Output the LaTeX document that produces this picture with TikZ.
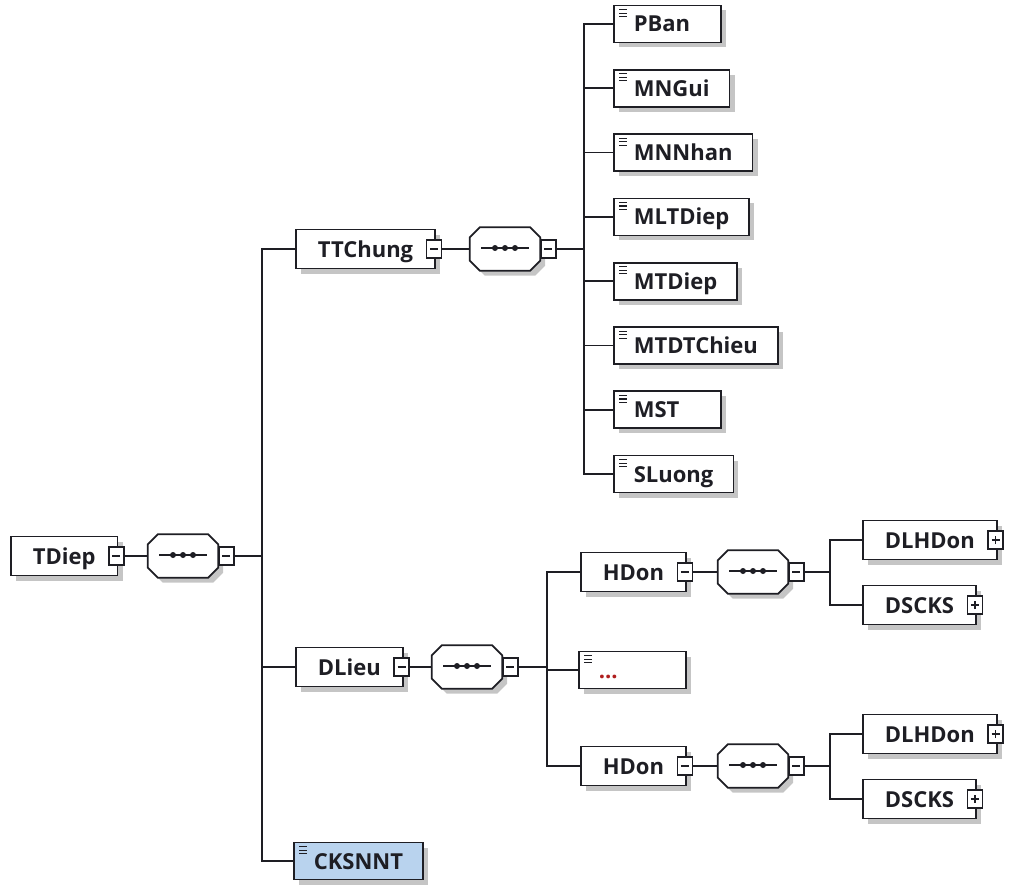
\documentclass[tikz,border=0pt]{standalone}
\usepackage{fontspec}
\setsansfont{Open Sans}
\usetikzlibrary{positioning,calc,shadows}
\definecolor{ink}{HTML}{1E1E24}
\definecolor{sig}{HTML}{B9D3EE}
\definecolor{etc}{HTML}{B01E1E}
\newlength{\txtw}
\newcommand{\lpad}[1]{\settowidth{\txtw}{#1}\ifdim\txtw<67pt\setlength{\txtw}{67pt}\fi\makebox[\txtw][l]{#1}}
\tikzset{
  dropsh/.style={drop shadow={shadow xshift=5pt, shadow yshift=-5pt, fill=black!45, opacity=0.5}},
  wire/.style={draw=ink, line width=1.6pt},
  box/.style={draw=ink, line width=1.7pt, fill=white, dropsh, anchor=west,
    inner xsep=20pt, inner ysep=0pt, minimum height=37pt, text height=18pt, text depth=2pt,
    text=ink, font=\sffamily\bfseries\fontsize{22}{26}\selectfont},
  cplx/.style={box, inner xsep=22pt, minimum height=39pt},
  elem/.style={box},
  tog/.style={draw=ink, line width=1.5pt, fill=white, minimum width=15pt, minimum height=18pt, inner sep=0pt,
    path picture={\draw[ink, line width=1.4pt] ([xshift=-4pt]path picture bounding box.center) -- ([xshift=4pt]path picture bounding box.center);}},
  togp/.style={tog,
    path picture={\draw[ink, line width=1.4pt] ([xshift=-4pt]path picture bounding box.center) -- ([xshift=4pt]path picture bounding box.center);
      \draw[ink, line width=1.4pt] ([yshift=-4pt]path picture bounding box.center) -- ([yshift=4pt]path picture bounding box.center);}},
  seq/.style={minimum width=70pt, minimum height=43pt, inner sep=0pt},
  octo/.style={draw=ink, line width=1.7pt, fill=white, dropsh},
}
% octagon with the three dots, round a seq node
\newcommand{\seqmark}[1]{%
  \draw[octo] ($(#1.north west)+(0,10)$) -- ($(#1.north west)+(10,0)$) -- ($(#1.north east)+(-10,0)$)
    -- ($(#1.north east)+(0,10)$) -- ($(#1.south east)+(0,-10)$) -- ($(#1.south east)+(-10,0)$)
    -- ($(#1.south west)+(10,0)$) -- ($(#1.south west)+(0,-10)$) -- cycle;
  \draw[ink, line width=1.4pt] ($(#1.center)+(-24,-1)$) -- ($(#1.center)+(24,-1)$);
  \foreach \d in {-10,0,10} \fill[ink] ($(#1.center)+(\d,-1)$) circle (3pt);}

\begin{document}
\begin{tikzpicture}[x=1pt, y=-1pt]
  \useasboundingbox (0,0) rectangle (1010,888);
  % root and its sequence
  \node[cplx] (tdiep) at (10,556) {TDiep};
  \node[tog] (tdiep-t) at ([xshift=-2pt]tdiep.east) {};
  \node[seq] (s1) at (183,556) {}; \seqmark{s1}
  \node[tog, right=0pt of s1] (s1-t) {};
  \coordinate (b1) at (262,556);
  \draw[wire] (tdiep-t) -- (s1);
  \draw[wire] (s1-t) -- (b1);
  % TTChung
  \node[cplx] (ttchung) at (295,249) {TTChung};
  \node[tog] (ttchung-t) at ([xshift=-2pt]ttchung.east) {};
  \node[seq] (s2) at (505,249) {}; \seqmark{s2}
  \node[tog, right=0pt of s2] (s2-t) {};
  \coordinate (b2) at (584,249);
  \draw[wire] (ttchung-t) -- (s2);
  \draw[wire] (s2-t) -- (b2);
  \foreach \n/\t [count=\i from 0] in {pban/PBan, mngui/MNGui, mnnhan/MNNhan, mltdiep/MLTDiep,
      mtdiep/MTDiep, mtdtchieu/MTDTChieu, mst/MST, sluong/SLuong}
    \node[elem] (\n) at (613,{24+64.3*\i}) {\lpad{\t}};
  \foreach \n in {pban,mngui,mnnhan,mltdiep,mtdiep,mtdtchieu,mst,sluong} \draw[wire] (\n.west) -| (b2);
  % DLieu
  \node[cplx] (dlieu) at (295,667) {DLieu};
  \node[tog] (dlieu-t) at ([xshift=-2pt]dlieu.east) {};
  \node[seq] (s3) at (467,667) {}; \seqmark{s3}
  \node[tog, right=0pt of s3] (s3-t) {};
  \coordinate (b3) at (547,667);
  \draw[wire] (dlieu-t) -- (s3);
  \draw[wire] (s3-t) -- (b3);
  \node[elem, text=etc] (etc0) at (578,670) {\lpad{...}};
  \foreach \h/\y in {1/572, 2/766} {
    \node[cplx] (hdon\h) at (580,\y) {HDon};
    \node[tog] (hdon\h-t) at ([xshift=-2pt]hdon\h.east) {};
    \node[seq] (s4\h) at (753,\y) {}; \seqmark{s4\h}
    \node[tog, right=0pt of s4\h] (s4\h-t) {};
    \coordinate (b4\h) at (830,\y);
    \draw[wire] (hdon\h-t) -- (s4\h);
    \draw[wire] (s4\h-t) -- (b4\h);
    \node[cplx] (dlhdon\h) at (862,{\y-32}) {DLHDon};
    \node[togp] at ([xshift=-2pt]dlhdon\h.east) {};
    \node[cplx] (dscks\h) at (862,{\y+33}) {DSCKS};
    \node[togp] at ([xshift=-2pt]dscks\h.east) {};
    \draw[wire] (dlhdon\h.west) -| (b4\h);
    \draw[wire] (dscks\h.west) -| (b4\h);
    \draw[wire] (hdon\h.west) -| (b3);
  }
  \draw[wire] (etc0.west) -| (b3);
  % CKSNNT
  \node[elem, fill=sig] (cksnnt) at (293,861) {\lpad{CKSNNT}};
  \foreach \n in {ttchung,dlieu,cksnnt} \draw[wire] (\n.west) -| (b1);
  % element icons
  \foreach \n in {pban,mngui,mnnhan,mltdiep,mtdiep,mtdtchieu,mst,sluong,etc0,cksnnt}
    \foreach \k in {5,8.5,12} \draw[ink, line width=1.1pt] ($(\n.north west)+(6,\k)$) -- +(8,0);
\end{tikzpicture}
\end{document}
